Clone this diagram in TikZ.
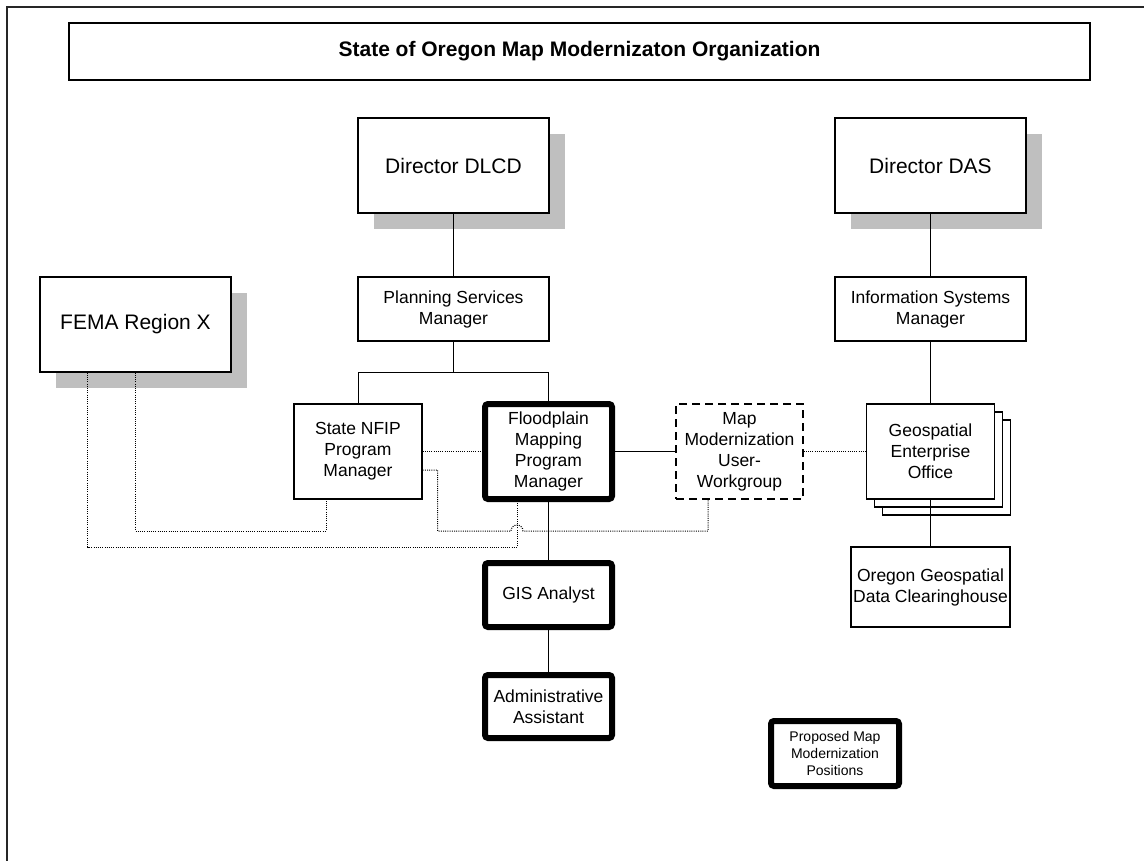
\documentclass[tikz,border=0pt]{standalone}
\usepackage{fontspec}
\setmainfont{Liberation Sans}
\usetikzlibrary{calc,shadows}

\tikzset{
  post/.style={draw, fill=white, line width=1.2pt, align=center, inner sep=0pt, font=\fontsize{17.5}{21}\selectfont},
  head/.style={post, minimum width=191pt, minimum height=95pt, font=\fontsize{21}{25}\selectfont, drop shadow={shadow xshift=16pt, shadow yshift=-16pt, fill=black!25, opacity=1}},
  newpost/.style={post, line width=6pt, rounded corners=3pt},
  group/.style={post, dash pattern=on 8pt off 5pt},
  link/.style={line width=1pt},
  dotlink/.style={line width=1pt, dash pattern=on 1pt off 1.2pt},
}

\begin{document}
\begin{tikzpicture}[x=1pt,y=-1pt]
			%%%%% START %%%%%
			\useasboundingbox (0,0) rectangle (1144,861);
			\draw[line width=2pt, black!85] (7,861) -- (7,7) -- (1144,7);
			
			\node[post, minimum width=1021pt, minimum height=57pt, font=\fontsize{21}{25}\selectfont\bfseries] (title) at (579.5,51.5) {State of Oregon Map Modernizaton Organization};
			
			\node[head] (dlcd) at (453.5,165.5) {Director DLCD};
			\node[head] (das) at (930.5,165.5) {Director DAS};
			\node[head] (fema) at (135.5,324.5) {FEMA Region X};
			
			\node[post, minimum width=191pt, minimum height=64pt] (psm) at (453.5,309) {Planning Services\\Manager};
			\node[post, minimum width=191pt, minimum height=64pt] (ism) at (930.5,309) {Information Systems\\Manager};
			
			\node[post, minimum width=128pt, minimum height=95pt] (nfip) at (358,451.5) {State NFIP\\Program\\Manager};
			\node[newpost, minimum width=127pt, minimum height=95pt] (fpm) at (548.5,451.5) {Floodplain\\Mapping\\Program\\Manager};
			\node[group, minimum width=127pt, minimum height=95pt] (mmw) at (739.5,451.5) {Map\\Modernization\\User-\\Workgroup};
			\node[post, minimum width=128pt, minimum height=95pt, copy shadow={shadow xshift=16pt, shadow yshift=-16pt, draw=black, fill=white}, copy shadow={shadow xshift=8pt, shadow yshift=-8pt, draw=black, fill=white}] (geo) at (930.5,451.5) {Geospatial\\Enterprise\\Office};
			\node[post, minimum width=159pt, minimum height=80pt] (ogdc) at (930.5,587) {Oregon Geospatial\\Data Clearinghouse};
			
			\node[newpost, minimum width=127pt, minimum height=64pt] (gis) at (548.5,595) {GIS Analyst};
			\node[newpost, minimum width=127pt, minimum height=63pt] (admin) at (548.5,706.5) {Administrative\\Assistant};
			
			\node[newpost, minimum width=128pt, minimum height=65pt, font=\fontsize{14}{16.7}\selectfont] (key) at (835,753.5) {Proposed Map\\Modernization\\Positions};
			
			\coordinate (split) at ($(psm.south)+(0,31)$);
			\coordinate (busA) at (0,531);
			\coordinate (busB) at (0,547);
			\coordinate (femaleg) at ($(fema.south)+(-48,0)$);
			\coordinate (nfipleg) at ($(nfip.south)+(-32,0)$);
			\coordinate (fpmleg) at ($(fpm.south)+(-31.5,0)$);
			\coordinate (mmwleg) at ($(mmw.south)+(-31.5,0)$);
			\coordinate (nfipout) at ($(nfip.east)+(0,18.5)$);
			
			\draw[link] (dlcd) -- (psm);
			\draw[link] (das) -- (ism);
			\draw[link] (ism) -- (geo);
			\draw[link] (geo) -- (ogdc);
			\draw[link] (psm) -- (split);
			\draw[link] (nfip.north) |- (split) -| (fpm.north);
			\draw[link] (fpm) -- (mmw);
			\draw[link] (fpm) -- (gis);
			\draw[link] (gis) -- (admin);
			
			\draw[dotlink] (mmw) -- (geo);
			\draw[dotlink] (nfip) -- (fpm);
			\draw[dotlink] (fema.south) |- (nfipleg |- busA) -- (nfipleg);
			\draw[dotlink] (femaleg) |- (fpmleg |- busB) -- (fpmleg);
			\draw[dotlink] (nfipout) -- ++(15,0) |- ($(fpmleg |- busA)+(-6,0)$) arc[start angle=180, end angle=0, radius=6pt] -| (mmwleg);
			
			%%%%% END %%%%%
\end{tikzpicture}
\end{document}
